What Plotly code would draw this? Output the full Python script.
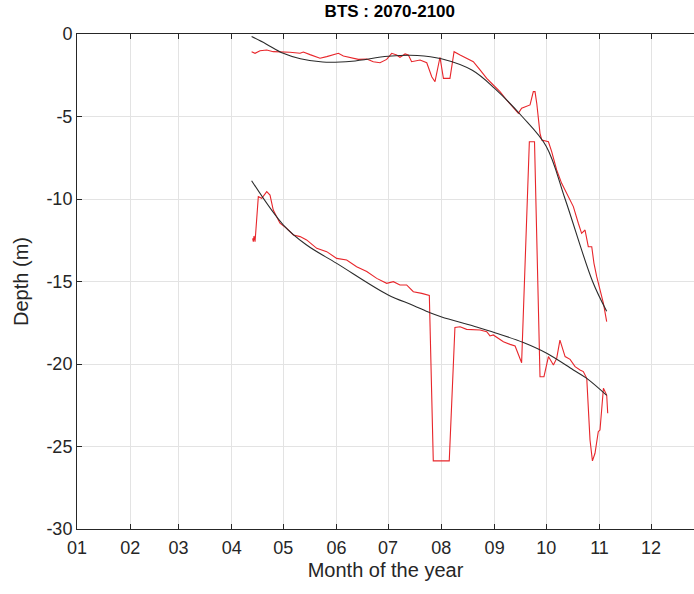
import plotly.graph_objects as go

# ---- data (x in day-of-year, Jan 1 = 0; y = depth in m) ----
month_ticks = [0, 31, 59, 90, 120, 151, 181, 212, 243, 273, 304, 334]
month_labels = ["01", "02", "03", "04", "05", "06", "07", "08", "09", "10", "11", "12"]
depth_ticks = [0, -5, -10, -15, -20, -25, -30]
depth_labels = ["0", "-5", "-10", "-15", "-20", "-25", "-30"]

top_obs_day = [101.6, 103.6, 106.5, 110.4, 114.2, 120.1, 123.9, 129.8, 131.7, 135.6, 141.4, 145.3,
               149.2, 152.1, 155.0, 158.9, 163.7, 168.6, 172.4, 176.3, 180.2, 183.1, 186.0, 187.9,
               190.9, 192.8, 194.7, 199.6, 203.5, 206.4, 208.3, 211.2, 213.2, 217.0, 219.4, 222.9,
               226.7, 230.6, 234.5, 238.4, 242.2, 246.1, 250.0, 253.9, 256.8, 258.7, 261.6, 263.6,
               265.5, 266.5, 267.5, 269.4, 270.4, 274.3, 276.2, 279.1, 282.0, 284.9, 288.8, 291.7,
               293.6, 295.6, 297.5, 299.5, 300.8, 302.4, 304.3, 306.3, 308.2]
top_obs_depth = [-1.07, -1.17, -1.01, -0.97, -1.07, -1.07, -1.11, -1.17, -1.09, -1.25, -1.47, -1.37,
                 -1.27, -1.17, -1.33, -1.41, -1.54, -1.52, -1.68, -1.74, -1.54, -1.17, -1.27, -1.41,
                 -1.21, -1.27, -1.68, -1.58, -1.74, -2.59, -2.89, -1.41, -2.69, -2.69, -1.07, -1.27,
                 -1.47, -1.68, -2.18, -2.69, -3.09, -3.49, -4.0, -4.5, -4.81, -4.5, -4.36, -4.3,
                 -3.49, -3.49, -4.2, -6.02, -6.42, -6.53, -7.13, -8.24, -9.05, -9.65, -10.46, -11.47,
                 -12.08, -11.88, -12.89, -12.89, -13.9, -14.71, -15.52, -16.33, -17.43]

top_fit_day = [101.6, 110, 120, 130, 143, 160, 181, 198, 212, 230, 243, 259, 273, 284, 300, 308.2]
top_fit_depth = [-0.15, -0.6, -1.17, -1.5, -1.7, -1.65, -1.35, -1.3, -1.5, -2.2, -3.3, -5.0, -6.8,
                 -10.0, -15.0, -16.8]

bot_obs_day = [102.2, 102.6, 103.0, 103.6, 105.5, 107.5, 110.4, 112.3, 114.2, 118.1, 122.0, 125.9,
               129.8, 133.6, 139.5, 145.3, 151.1, 156.9, 162.7, 168.6, 174.4, 180.2, 184.1, 187.9,
               191.8, 195.7, 200.6, 204.4, 205.0, 207.3, 216.6, 219.9, 222.9, 226.7, 230.6, 234.5,
               238.4, 240.3, 242.2, 244.2, 248.1, 252.0, 254.9, 258.7, 263.2, 266.2, 269.4, 271.7,
               274.3, 277.2, 279.1, 281.0, 284.0, 286.9, 289.8, 292.7, 294.6, 296.6, 298.5, 299.9,
               301.4, 303.3, 304.3, 306.3, 308.2, 308.8]
bot_obs_depth = [-12.38, -12.59, -12.24, -12.59, -9.86, -9.96, -9.55, -9.76, -10.67, -11.47, -11.78,
                 -12.18, -12.28, -12.48, -12.99, -13.19, -13.6, -13.7, -14.1, -14.4, -14.81, -15.11,
                 -15.01, -15.21, -15.21, -15.62, -15.72, -15.82, -15.85, -25.87, -25.87, -17.78,
                 -17.74, -17.9, -17.9, -17.94, -18.04, -18.3, -18.24, -18.38, -18.65, -18.81, -18.91,
                 -19.92, -6.53, -6.53, -20.77, -20.77, -19.55, -20.06, -19.66, -18.55, -19.55, -19.72,
                 -20.16, -20.36, -20.46, -20.87, -24.61, -25.87, -25.41, -24.1, -24.0, -21.47, -21.88,
                 -22.99]

bot_fit_day = [101.6, 120.1, 133.6, 151.1, 180.8, 195.7, 205.4, 212.2, 230.6, 243.2, 259.7, 273.3,
               288.8, 296.6, 308.2]
bot_fit_depth = [-8.89, -11.58, -12.79, -13.9, -15.8, -16.45, -16.9, -17.15, -17.7, -18.1, -18.7,
                 -19.35, -20.36, -20.87, -21.9]

RED = "#e8262b"
BLACK = "#2b2b2b"
AXIS = "#262626"
GRID = "#e3e3e3"
FONT = "Arial, Liberation Sans, sans-serif"

fig = go.Figure()
fig.add_trace(go.Scatter(x=top_obs_day, y=top_obs_depth, mode="lines",
                         line=dict(color=RED, width=1.1), showlegend=False))
fig.add_trace(go.Scatter(x=bot_obs_day, y=bot_obs_depth, mode="lines",
                         line=dict(color=RED, width=1.1), showlegend=False))
fig.add_trace(go.Scatter(x=top_fit_day, y=top_fit_depth, mode="lines",
                         line=dict(color=BLACK, width=1.1, shape="spline", smoothing=1.0),
                         showlegend=False))
fig.add_trace(go.Scatter(x=bot_fit_day, y=bot_fit_depth, mode="lines",
                         line=dict(color=BLACK, width=1.1, shape="spline", smoothing=1.0),
                         showlegend=False))

fig.update_layout(
    width=694, height=594,
    margin=dict(l=77, r=0, t=34, b=65),
    paper_bgcolor="white", plot_bgcolor="white",
    font=dict(family=FONT, size=18, color=AXIS),
    title=dict(text="<b>BTS : 2070-2100</b>", x=0.507, xref="paper", xanchor="center",
               y=1, yref="container", yanchor="top", pad=dict(t=5),
               font=dict(family=FONT, size=17, color="black")),
    xaxis=dict(range=[0, 359], tickmode="array", tickvals=month_ticks, ticktext=month_labels,
               showgrid=True, gridcolor=GRID, gridwidth=1, zeroline=False,
               showline=True, linecolor=AXIS, linewidth=1, mirror="ticks",
               ticks="inside", ticklen=5, tickcolor=AXIS, ticklabelstandoff=2,
               title=dict(text="Month of the year", standoff=6, font=dict(size=20)),
               tickfont=dict(size=18)),
    yaxis=dict(range=[-30, 0], tickmode="array", tickvals=depth_ticks, ticktext=depth_labels,
               showgrid=True, gridcolor=GRID, gridwidth=1, zeroline=False,
               showline=True, linecolor=AXIS, linewidth=1, mirror=False,
               ticks="inside", ticklen=5, tickcolor=AXIS,
               title=dict(text="Depth (m)", standoff=12, font=dict(size=20)),
               tickfont=dict(size=18)),
)

fig.write_html("out.html")
